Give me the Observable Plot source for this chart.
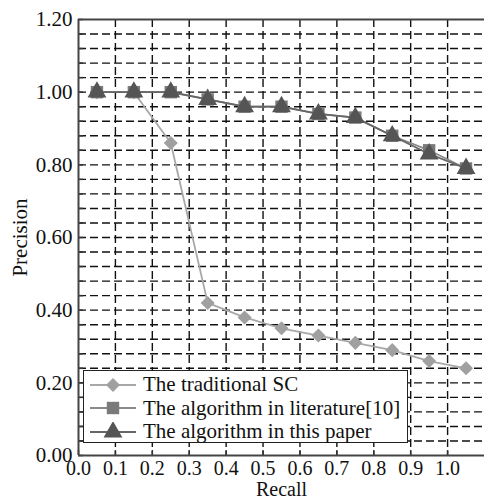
<!DOCTYPE html>
<html><head><meta charset="utf-8">
<script src="https://cdn.jsdelivr.net/npm/d3@7"></script>
<script src="https://cdn.jsdelivr.net/npm/@observablehq/plot@0.6"></script>
<style>
body{margin:0;background:#fff;}
#wrap{position:relative;width:484px;height:500px;font-family:"Liberation Serif","Times New Roman",Times,serif;}
#legend{position:absolute;left:83px;top:370px;width:325px;height:73px;border:1.5px solid #222;background:#fff;box-sizing:border-box;padding-top:2px;}
#legend .row{display:flex;align-items:center;height:23.5px;font-size:21px;color:#111;}
#legend svg{margin-left:6px;margin-right:7px;}
</style></head>
<body><div id="wrap"></div>
<script>
const recall = [0.05,0.15,0.25,0.35,0.45,0.55,0.65,0.75,0.85,0.95,1.05];
const traditionalSC = [1.00,1.00,0.86,0.42,0.38,0.35,0.33,0.31,0.29,0.26,0.24];
const literature10 = [1.00,1.00,1.00,0.98,0.96,0.96,0.94,0.93,0.88,0.84,0.79];
const thisPaper = [1.00,1.00,1.00,0.98,0.96,0.96,0.94,0.93,0.88,0.83,0.79];
const seriesNames = ["The traditional SC","The algorithm in literature[10]","The algorithm in this paper"];
const xTicks = [0,0.1,0.2,0.3,0.4,0.5,0.6,0.7,0.8,0.9,1.0];
const yTicks = [0,0.2,0.4,0.6,0.8,1.0,1.2];
const yGrid = d3.range(0,31).map(i=>+(i*0.04).toFixed(2));

const series = [
  {name:seriesNames[0], values:traditionalSC, symbol:"square", rotate:45, line:"#a8a8a8", fill:"#a0a0a0", r:5.6},
  {name:seriesNames[1], values:literature10, symbol:"square", rotate:0, line:"#8a8a8a", fill:"#7a7a7a", r:7},
  {name:seriesNames[2], values:thisPaper, symbol:"triangle", rotate:0, line:"#666", fill:"#555", r:7}
];
const rows = series.flatMap(s => recall.map((x,i)=>({x, y:s.values[i], name:s.name})));

const font = "'Liberation Serif','Times New Roman',Times,serif";
const marks = [
  Plot.ruleY(yGrid.slice(1,30), {stroke:"#111", strokeWidth:1.4, strokeDasharray:"8,4"}),
  Plot.ruleX(xTicks.slice(1), {stroke:"#111", strokeWidth:1.4, strokeDasharray:"8,4"}),
  Plot.axisX({ticks:xTicks, tickFormat:d3.format(".1f"), label:"Recall", labelAnchor:"center", labelArrow:"none", tickSize:0, tickPadding:5, fontSize:20, labelOffset:40}),
  Plot.axisY({ticks:yTicks, tickFormat:d3.format(".2f"), label:"Precision", labelAnchor:"center", labelArrow:"none", tickSize:0, tickPadding:6, fontSize:21, labelOffset:66}),
  Plot.axisX({ticks:xTicks, tickFormat:()=>"", label:null, tickSize:-5, stroke:"#333", strokeWidth:1.5}),
  Plot.axisY({ticks:yGrid, tickFormat:()=>"", label:null, tickSize:-5, stroke:"#333", strokeWidth:1.5})
];
for (const s of series) {
  const d = rows.filter(r=>r.name===s.name);
  marks.push(Plot.line(d, {x:"x", y:"y", stroke:s.line, strokeWidth:1.8}));
  marks.push(Plot.dot(d, {x:"x", y:"y", symbol:()=>s.symbol, rotate:s.rotate, fill:s.fill, r:s.r, stroke:"none"}));
}
marks.push(Plot.ruleY([0], {stroke:"#444", strokeWidth:2}));
marks.push(Plot.ruleY([1.2], {stroke:"#444", strokeWidth:2}));
marks.push(Plot.ruleX([0], {stroke:"#444", strokeWidth:2}));

const chart = Plot.plot({
  width:484, height:500,
  marginLeft:78, marginRight:0, marginTop:19, marginBottom:45,
  style:{fontFamily:font, fontSize:"21px", color:"#111", background:"#fff"},
  x:{domain:[0,1.1]},
  y:{domain:[0,1.2]},
  marks
});
const wrap = document.getElementById("wrap");
wrap.appendChild(chart);

const legend = document.createElement("div");
legend.id="legend";
for (const s of series) {
  const row = document.createElement("div");
  row.className="row";
  const sym = d3.symbol(s.symbol==="square"?d3.symbolSquare:d3.symbolTriangle, Math.PI*s.r*s.r)();
  row.innerHTML = `<svg width="46" height="20"><line x1="0" x2="46" y1="10" y2="10" stroke="${s.line}" stroke-width="2"/><path d="${sym}" transform="translate(23,10) rotate(${s.rotate})" fill="${s.fill}"/></svg><span>${s.name}</span>`;
  legend.appendChild(row);
}
wrap.appendChild(legend);
</script></body></html>
